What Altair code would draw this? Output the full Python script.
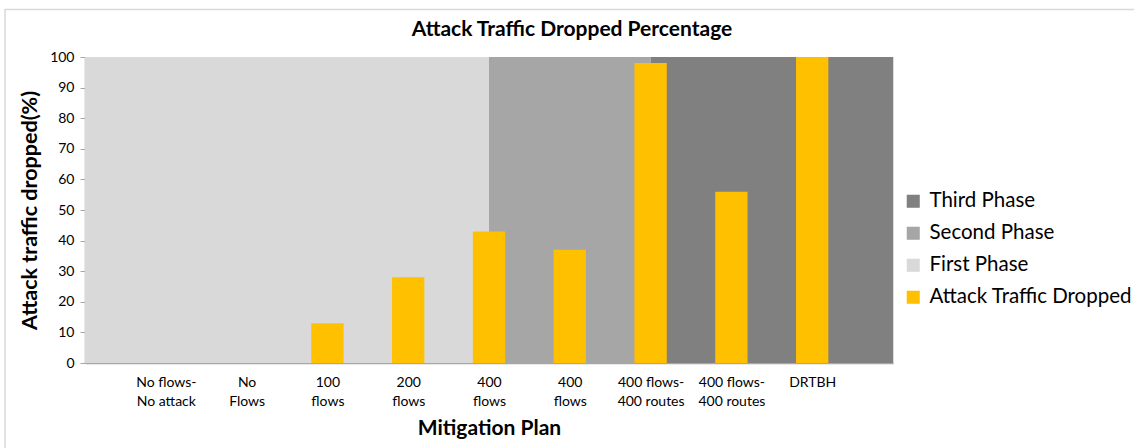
import json
import altair as alt
import pandas as pd

# Mitigation plans along the x axis (two-line labels) and the share of attack traffic dropped
plan_lines = [
    ["No flows-", "No attack"],
    ["No", "Flows"],
    ["100", "flows"],
    ["200", "flows"],
    ["400", "flows"],
    ["400", "flows"],
    ["400 flows-", "400 routes"],
    ["400 flows-", "400 routes"],
    ["DRTBH"],
]
dropped_pct = [0, 0, 13, 28, 43, 37, 98, 56, 100]

# Shaded phases behind the bars, given in plan-index units
phase_names = ["First Phase", "Second Phase", "Third Phase"]
phase_start = [-1, 4, 6]
phase_end = [4, 6, 9]

series_order = ["Third Phase", "Second Phase", "First Phase", "Attack Traffic Dropped"]
series_colors = ["#808080", "#A6A6A6", "#D9D9D9", "#FFC000"]

chart_title = "Attack Traffic Dropped Percentage"
y_ticks = list(range(0, 101, 10))

FONT = "Lato"
HALF_BAR = 0.2

bars = pd.DataFrame({
    "idx": list(range(len(dropped_pct))),
    "pct": dropped_pct,
})
bars["lo"] = bars["idx"] - HALF_BAR
bars["hi"] = bars["idx"] + HALF_BAR
bars["series"] = "Attack Traffic Dropped"

phases = pd.DataFrame({
    "series": phase_names,
    "start": phase_start,
    "end": phase_end,
    "bottom": [0] * 3,
    "top": [100] * 3,
})

color = alt.Color(
    "series:N",
    scale=alt.Scale(domain=series_order, range=series_colors),
    legend=alt.Legend(
        title=None,
        orient="none",
        legendX=818,
        legendY=134,
        symbolType="square",
        symbolSize=170,
        symbolStrokeWidth=0,
        symbolOpacity=1,
        labelFontSize=20.5,
        labelFont=FONT,
        labelColor="#000000",
        labelOffset=6,
        rowPadding=11,
        labelLimit=400,
    ),
)

label_expr = json.dumps(plan_lines) + "[datum.value]"

x_scale = alt.Scale(domain=[-1, 9], nice=False, zero=False)
y_scale = alt.Scale(domain=[0, 100], nice=False)

x_axis = alt.Axis(
    title="Mitigation Plan",
    values=list(range(len(plan_lines))),
    labelExpr=label_expr,
    labelOverlap=False,
    ticks=False,
    grid=False,
    domainColor="#A6A6A6",
    domainWidth=1.5,
    labelFont=FONT,
    labelFontSize=14,
    labelColor="#000000",
    labelLineHeight=19,
    labelPadding=12,
    labelAngle=0,
    titleFont=FONT,
    titleFontSize=21,
    titleFontWeight="bold",
    titleColor="#000000",
    titlePadding=9,
)

y_axis = alt.Axis(
    title="Attack traffic dropped(%)",
    values=y_ticks,
    tickCount=len(y_ticks),
    labelOverlap=False,
    labelFlush=False,
    grid=False,
    tickSize=5,
    tickColor="#A6A6A6",
    domainColor="#A6A6A6",
    domainWidth=1.5,
    labelFont=FONT,
    labelFontSize=14,
    labelColor="#000000",
    labelPadding=6,
    titleFont=FONT,
    titleFontSize=21.5,
    titleFontWeight="bold",
    titleColor="#000000",
    titlePadding=8,
)

background = alt.Chart(phases).mark_rect().encode(
    x=alt.X("start:Q", scale=x_scale, axis=x_axis),
    x2="end:Q",
    y=alt.Y("top:Q", scale=y_scale, axis=y_axis),
    y2="bottom:Q",
    color=color,
)

columns = alt.Chart(bars).mark_rect().encode(
    x=alt.X("lo:Q", scale=x_scale, axis=x_axis),
    x2="hi:Q",
    y=alt.Y("pct:Q", scale=y_scale, axis=y_axis),
    y2=alt.datum(0),
    color=color,
)

# Light frame along the top and left edges of the chart box, and the heading
one_row = pd.DataFrame({"k": [0]})
frame_top = alt.Chart(one_row).mark_rule(color="#D9D9D9", strokeWidth=1.5).encode(
    x=alt.value(-80), x2=alt.value(1060), y=alt.value(-47.5)
)
frame_left = alt.Chart(one_row).mark_rule(color="#D9D9D9", strokeWidth=1.5).encode(
    x=alt.value(-80), y=alt.value(-48), y2=alt.value(400)
)
heading = alt.Chart(one_row).mark_text(
    text=chart_title,
    font=FONT,
    fontSize=21,
    fontWeight="bold",
    color="#000000",
    align="center",
    baseline="middle",
).encode(x=alt.value(487), y=alt.value(-27))

chart = alt.layer(background, columns, frame_top, frame_left, heading).properties(
    width=808,
    height=306,
    autosize=alt.AutoSizeParams(type="none"),
    padding={"left": 85, "top": 57, "right": 241, "bottom": 85},
).configure_view(stroke=None).configure(background="#FFFFFF")

chart.save("out.html", embed_options={"renderer": "svg", "actions": False})
